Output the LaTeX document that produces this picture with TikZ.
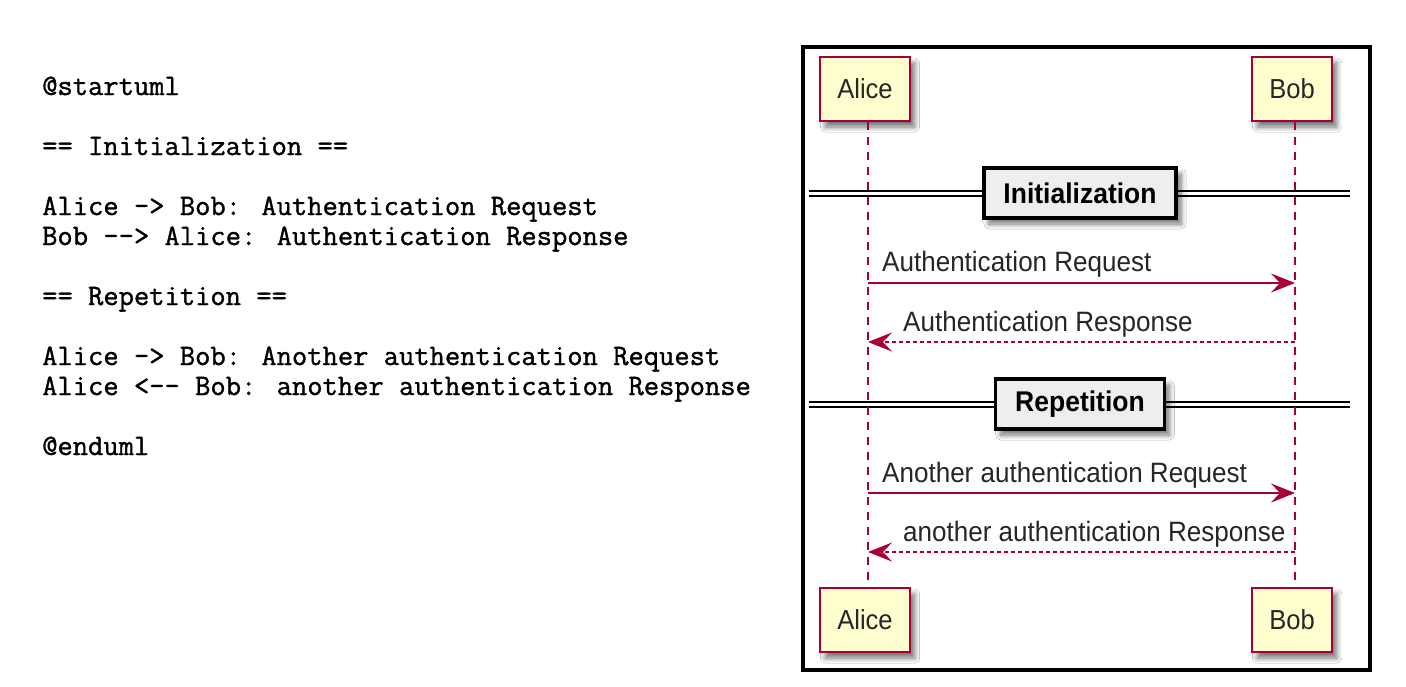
\documentclass[tikz,border=0pt]{standalone}
\usepackage{fontspec}
\setmainfont{Liberation Sans}
\newfontfamily\umlfont{Liberation Sans}[FakeStretch=0.93]
\newfontfamily\codefont{Latin Modern Mono}[FakeBold=1.2]
\usetikzlibrary{arrows.meta,shadows.blur}
\definecolor{umlred}{HTML}{A80036}
\definecolor{umlfill}{HTML}{FEFECE}
\definecolor{divfill}{HTML}{EEEEEE}
\tikzset{
  code/.style={anchor=base west, inner sep=0pt, text=black,
    font=\codefont\fontsize{29.7}{30}\selectfont},
  umlshadow/.style={blur shadow={shadow xshift=5pt, shadow yshift=-6pt,
    shadow blur radius=5pt, shadow blur steps=10, shadow opacity=55}},
  participant/.style={draw=umlred, fill=umlfill, line width=2pt,
    minimum height=64pt, inner xsep=17pt, inner ysep=0pt, text=black!85,
    font=\umlfont\fontsize{27.5}{30}\selectfont, umlshadow},
  lifeline/.style={draw=umlred, line width=1.5pt, dash pattern=on 8pt off 7pt},
  msg/.style={draw=umlred, line width=2pt,
    -{Stealth[length=24pt,width=19pt,inset=9pt,fill=umlred]}},
  reply/.style={msg, dash pattern=on 4pt off 3pt},
  msglabel/.style={anchor=base west, inner sep=0pt, text=black!85,
    font=\umlfont\fontsize{28}{30}\selectfont},
  divider/.style={draw=black, line width=3.5pt, fill=divfill,
    minimum height=50pt, inner xsep=19.5pt, inner ysep=0pt, text=black,
    font=\umlfont\bfseries\fontsize{28.5}{30}\selectfont, umlshadow},
  divline/.style={draw=black, line width=2pt, double=white, double distance=3pt},
  framebox/.style={draw=black, line width=4pt, minimum width=567pt,
    minimum height=623pt, inner sep=0pt}
}
\begin{document}
\begin{tikzpicture}[x=1pt,y=-1pt]
\fill[white] (0,0) rectangle (1406,686);
\useasboundingbox (0,0) rectangle (1406,686);

% source code
\node[code] (c1) at (42,95)  {@startuml};
\node[code] (c2) at (42,155) {== Initialization ==};
\node[code] (c3) at (42,215) {Alice -> Bob: Authentication Request};
\node[code] (c4) at (42,245) {Bob --> Alice: Authentication Response};
\node[code] (c5) at (42,305) {== Repetition ==};
\node[code] (c6) at (42,365) {Alice -> Bob: Another authentication Request};
\node[code] (c7) at (42,395) {Alice <-- Bob: another authentication Response};
\node[code] (c8) at (42,455) {@enduml};

% divider lines
\coordinate (d1l) at (809,193);
\coordinate (d1r) at (1350,193);
\coordinate (d2l) at (809,404);
\coordinate (d2r) at (1350,404);
\draw[divline] (d1l) -- (d1r);
\draw[divline] (d2l) -- (d2r);

% participants
\node[participant] (aliceT) at (865,89)  {Alice};
\node[participant] (bobT)   at (1292,89) {Bob};
\node[participant] (aliceB) at (865,620) {Alice};
\node[participant] (bobB)   at (1292,620) {Bob};

% lifelines
\draw[lifeline] ([xshift=3pt]aliceT.south) -- ([xshift=3pt]aliceB.north);
\draw[lifeline] ([xshift=3pt]bobT.south) -- ([xshift=3pt]bobB.north);

% message end points
\coordinate (a1) at (868,283);  \coordinate (b1) at (1295,283);
\coordinate (a2) at (868,342);  \coordinate (b2) at (1295,342);
\coordinate (a3) at (868,493);  \coordinate (b3) at (1295,493);
\coordinate (a4) at (868,552);  \coordinate (b4) at (1295,552);

\draw[msg]   (a1) -- (b1);
\draw[reply] (b2) -- (a2);
\draw[msg]   (a3) -- (b3);
\draw[reply] (b4) -- (a4);

\node[msglabel] (m1) at (882,271) {Authentication Request};
\node[msglabel] (m2) at (903,331) {Authentication Response};
\node[msglabel] (m3) at (882,482) {Another authentication Request};
\node[msglabel] (m4) at (903,541) {another authentication Response};

% divider boxes
\node[divider] (div1) at (1080,193) {Initialization};
\node[divider] (div2) at (1080,404) {Repetition};

% frame
\node[framebox] (frame) at (1086.5,358.5) {};
\end{tikzpicture}
\end{document}
